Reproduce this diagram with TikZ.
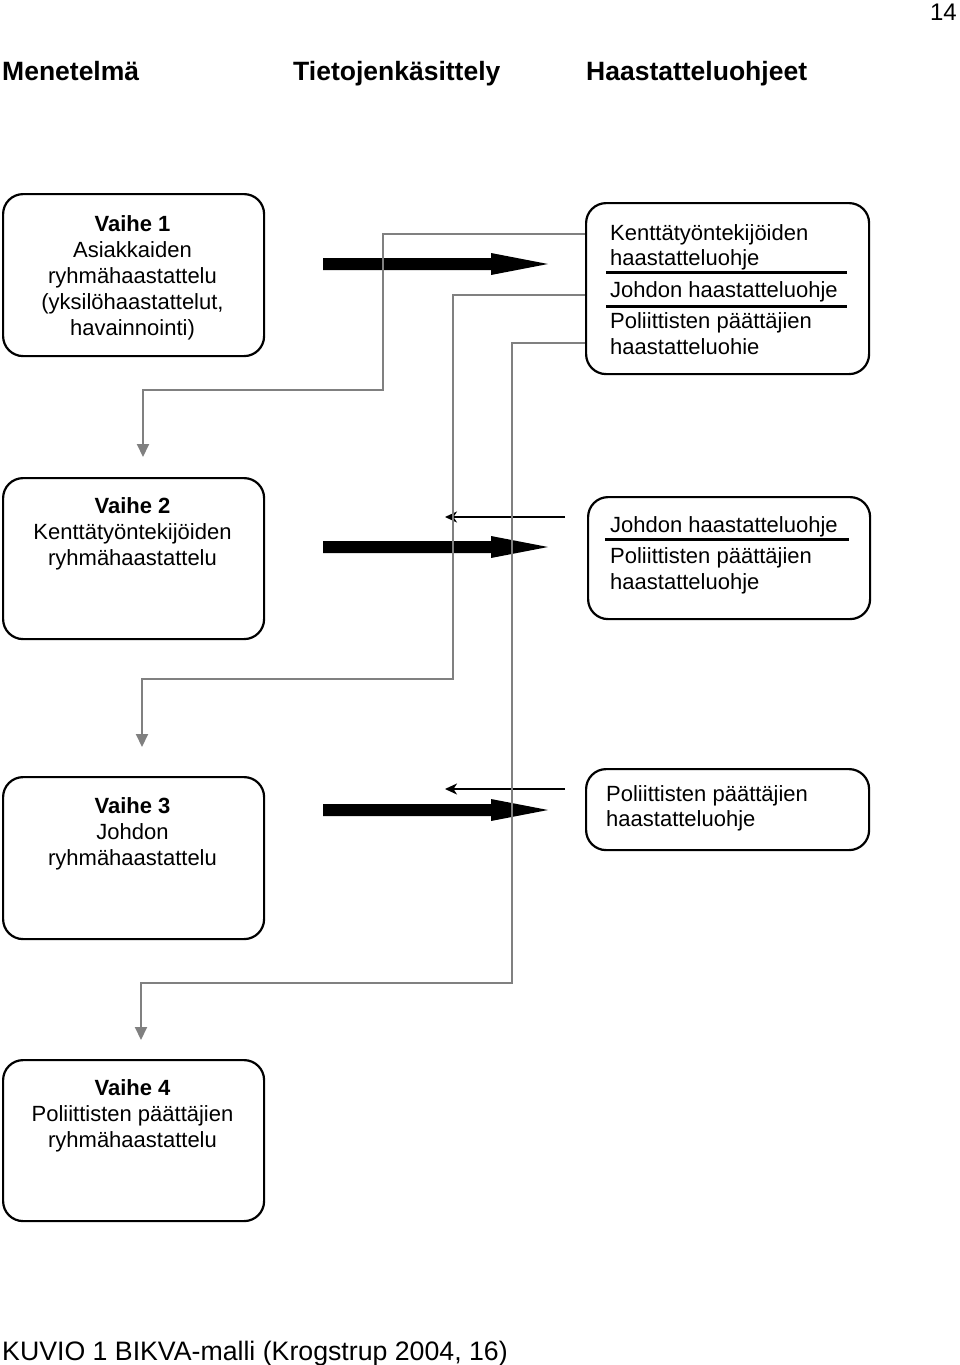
\documentclass[tikz,border=0pt]{standalone}
\usepackage{fontspec}
\setmainfont{Liberation Sans}
\usetikzlibrary{arrows.meta}
\definecolor{conngray}{RGB}{128,128,128}
\begin{document}
\begin{tikzpicture}[x=1pt,y=-1pt,
  lbox/.style={draw=black, line width=2.2pt, rounded corners=20pt, anchor=north west, inner sep=0pt},
  txtc/.style={font=\fontsize{22}{26}\selectfont, inner sep=0pt, align=center, anchor=north},
  txtl/.style={font=\fontsize{22}{25.5}\selectfont, inner sep=0pt, align=left, anchor=north west},
  head/.style={font=\fontsize{26.5}{30}\selectfont\bfseries, inner sep=0pt, anchor=base west},
  sepline/.style={line width=3pt},
  bigarrow/.style={fill=black},
  backarrow/.style={line width=1.6pt, -{Stealth[length=12pt,width=11pt,inset=3.5pt]}},
  conn/.style={draw=conngray, line width=2pt, -{Triangle[length=13pt,width=12pt]}, fill=none}
]
\useasboundingbox (0,0) rectangle (960,1365);

% page number and headers
\node[font=\fontsize{24}{28}\selectfont, inner sep=0pt, anchor=base east] (pg) at (957,20) {14};
\node[head] (h1) at (2,80) {Menetelmä};
\node[head] (h2) at (293,80) {Tietojenkäsittely};
\node[head] (h3) at (586,80) {Haastatteluohjeet};

% left boxes
\node[lbox, minimum width=261pt, minimum height=162pt] (L1) at (2,193) {};
\node[lbox, minimum width=261pt, minimum height=161pt] (L2) at (2,477) {};
\node[lbox, minimum width=261pt, minimum height=162pt] (L3) at (2,776) {};
\node[lbox, minimum width=261pt, minimum height=161pt] (L4) at (2,1059) {};

\node[txtc] (t1) at (132.5,215) {\textbf{Vaihe 1}\\Asiakkaiden\\ryhmähaastattelu\\(yksilöhaastattelut,\\havainnointi)};
\node[txtc] (t2) at (132.5,497) {\textbf{Vaihe 2}\\Kenttätyöntekijöiden\\ryhmähaastattelu};
\node[txtc] (t3) at (132.5,797) {\textbf{Vaihe 3}\\Johdon\\ryhmähaastattelu};
\node[txtc] (t4) at (132.5,1079) {\textbf{Vaihe 4}\\Poliittisten päättäjien\\ryhmähaastattelu};

% right boxes
\node[lbox, minimum width=283pt, minimum height=171pt] (R1) at (585,202) {};
\node[lbox, minimum width=282pt, minimum height=122pt] (R2) at (587,496) {};
\node[lbox, minimum width=283pt, minimum height=81pt] (R3) at (585,768) {};

\node[txtl] (r1t) at (610,224) {Kenttätyöntekijöiden\\haastatteluohje\\[6pt]Johdon haastatteluohje\\[6pt]Poliittisten päättäjien\\haastatteluohie};
\draw[sepline] (606,272) -- (847,272);
\draw[sepline] (606,306) -- (847,306);

\node[txtl] (r2t) at (610,516) {Johdon haastatteluohje\\[6pt]Poliittisten päättäjien\\haastatteluohje};
\draw[sepline] (605,539) -- (849,539);

\node[txtl] (r3t) at (606,785) {Poliittisten päättäjien\\haastatteluohje};

% thick arrows (filled block arrows)
\coordinate (a1s) at (323,264);
\coordinate (a2s) at (323,547);
\coordinate (a3s) at (323,810);
\foreach \s in {a1s,a2s,a3s}{
  \fill[bigarrow] (\s) ++(0,-6) -- ++(168,0) -- ++(0,-5) -- ++(57,11) -- ++(-57,11) -- ++(0,-5) -- ++(-168,0) -- cycle;
}

% thin back arrows
\coordinate (b2s) at (565,517); \coordinate (b2e) at (445,517);
\coordinate (b3s) at (565,789); \coordinate (b3e) at (445,789);
\draw[backarrow] (b2s) -- (b2e);
\draw[backarrow] (b3s) -- (b3e);

% gray connectors
\draw[conn, shorten >=20pt] (R1.west |- 0,234) -| (383,390) -| ([xshift=141pt]L2.north west);
\draw[conn, shorten >=29pt] (R1.west |- 0,295) -| (453,679) -| ([xshift=140pt]L3.north west);
\draw[conn, shorten >=19pt] (R1.west |- 0,343) -| (512,983) -| ([xshift=139pt]L4.north west);

% caption
\node[font=\fontsize{26.7}{30}\selectfont, inner sep=0pt, anchor=base west] (cap) at (2,1360) {KUVIO 1 BIKVA-malli (Krogstrup 2004, 16)};
\end{tikzpicture}
\end{document}
